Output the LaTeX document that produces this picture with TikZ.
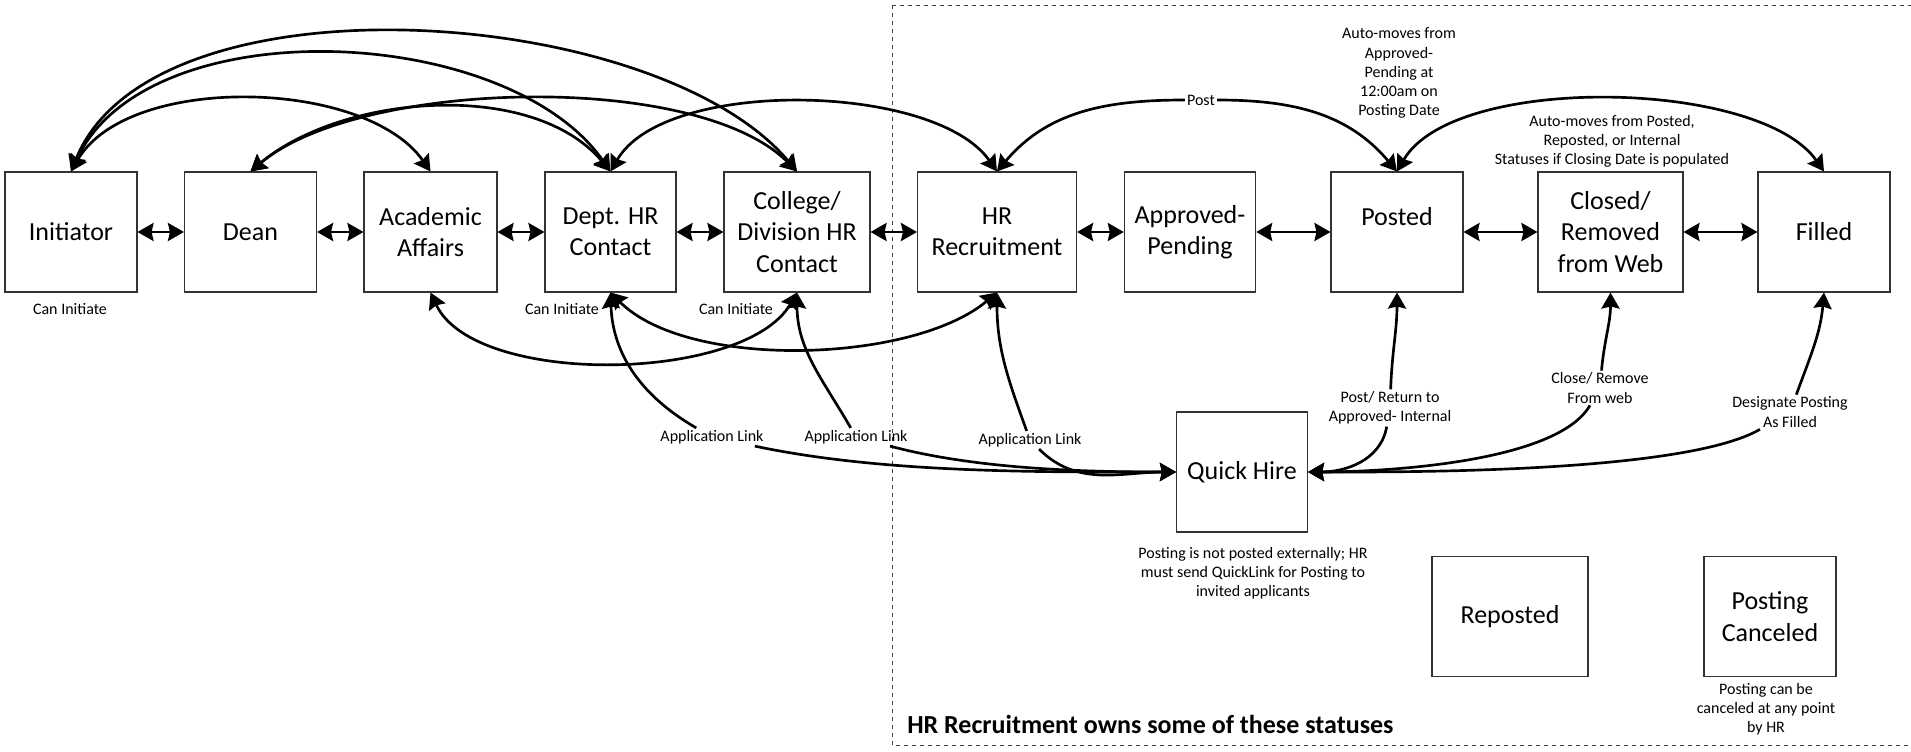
\documentclass[tikz,border=0pt]{standalone}
\usepackage{fontspec}
\setmainfont{Carlito}
\usetikzlibrary{arrows.meta}

\tikzset{
  status/.style={draw=black!80, line width=0.8pt, rectangle, minimum width=99pt, minimum height=90pt, align=center, inner sep=2pt, font=\fontsize{19.5}{23.5}\selectfont},
  note/.style={align=center, inner sep=1.5pt, font=\fontsize{12}{14.3}\selectfont},
  conn/.style={line width=2pt},
}

\begin{document}
\begin{tikzpicture}[x=0.75pt, y=0.75pt, >={Stealth[length=12pt,width=13.5pt,inset=1.5pt]}]
\useasboundingbox (0,0) rectangle (1911,-752);
% statuses owned by HR Recruitment
\draw[dashed, black!75, line width=0.6pt] (892,-5) rectangle (1918,-745);
\node[anchor=west, inner sep=0pt, font=\fontsize{19.5}{23.5}\selectfont\bfseries] (owns) at (907,-724) {HR Recruitment owns some of these statuses};

% status boxes
\node[status] (init) at (71,-232) {Initiator};
\node[status] (dean) at (250.5,-232) {Dean};
\node[status, minimum width=99.75pt] (acad) at (430.5,-232) {Academic\\Affairs};
\node[status, minimum width=98.25pt] (dept) at (610.5,-232) {Dept. HR\\Contact};
\node[status, minimum width=109.5pt] (coll) at (797,-232) {College/\\Division HR\\Contact};
\node[status, minimum width=119.25pt] (hrrec) at (997,-232) {HR\\Recruitment};
\node[status, minimum width=98.5pt] (appr) at (1190,-232) {Approved-\\Pending};
\node[status] (posted) at (1397,-232) {Posted\\\phantom{P}};
\node[status, minimum width=108.75pt] (closed) at (1610.5,-232) {Closed/\\Removed\\from Web};
\node[status] (filled) at (1824,-232) {Filled};
\node[status, minimum width=98.25pt] (quick) at (1242,-472) {Quick Hire};
\node[status, minimum width=117pt] (repost) at (1510,-616.5) {Reposted};
\node[status] (cancel) at (1770,-616.5) {Posting\\Canceled};

% notes
\node[note] (caninit1) at (70,-309) {Can Initiate};
\node[note] (caninit2) at (562,-309) {Can Initiate};
\node[note] (caninit3) at (736,-309) {Can Initiate};
\node[note] (automove1) at (1399,-73) {Auto-moves from\\Approved-\\Pending at\\12:00am on\\Posting Date};
\node[note] (automove2) at (1612,-141) {Auto-moves from Posted,\\Reposted, or Internal\\Statuses if Closing Date is populated};
\node[note] (quicknote) at (1253,-573) {Posting is not posted externally; HR\\must send QuickLink for Posting to\\invited applicants};
\node[note] (cancelnote) at (1766,-709) {Posting can be\\canceled at any point\\by HR};

% labels on the links
\node[note] (postlbl) at (1201,-100) {Post};
\node[note] (app1) at (712,-437) {Application Link};
\node[note] (app2) at (856,-437) {Application Link};
\node[note] (app3) at (1030,-440) {Application Link};
\node[note] (retlbl) at (1390,-408) {Post/ Return to\\Approved- Internal};
\node[note] (closelbl) at (1600,-388) {Close/ Remove\\From web};
\node[note] (filllbl) at (1790,-412) {Designate Posting\\As Filled};

% side by side
\draw[<->, conn] (init) -- (dean);
\draw[<->, conn] (dean) -- (acad);
\draw[<->, conn] (acad) -- (dept);
\draw[<->, conn] (dept) -- (coll);
\draw[<->, conn] (coll) -- (hrrec);
\draw[<->, conn] (hrrec) -- (appr);
\draw[<->, conn] (appr) -- (posted);
\draw[<->, conn] (posted) -- (closed);
\draw[<->, conn] (closed) -- (filled);

% arcs over the top
\draw[<->, conn] (init.north) to[out=60, in=125, looseness=0.81] (acad.north);
\draw[<->, conn] (init.north) to[out=65, in=125, looseness=0.86] (dept.north);
\draw[<->, conn] (init.north) to[out=68, in=130, looseness=0.77] (coll.north);
\draw[<->, conn] (dean.north) to[out=40, in=130, looseness=0.86] (dept.north);
\draw[<->, conn] (dean.north) to[out=40, in=135, looseness=0.67] (coll.north);
\draw[<->, conn] (dept.north) to[out=60, in=125, looseness=0.72] (hrrec.north);
\draw[->, conn] (postlbl) to[out=180, in=50] (hrrec.north);
\draw[->, conn] (postlbl) to[out=0, in=130] (posted.north);
\draw[<->, conn] (posted.north) to[out=60, in=125, looseness=0.68] (filled.north);

% arcs underneath
\draw[<->, conn] (acad.south) to[out=-65, in=-120, looseness=0.73] (coll.south);
\draw[<->, conn] (dept.south) to[out=-45, in=-140, looseness=0.73] (hrrec.south);

% into Quick Hire
\draw[->, conn] (app1) to[out=150, in=-88] (dept.south);
\draw[->, conn] (app1) to[out=-12, in=180, looseness=0.8] (quick.west);
\draw[->, conn] (app2) to[out=120, in=-90] (coll.south);
\draw[->, conn] (app2) to[out=-15, in=180, looseness=0.8] (quick.west);
\draw[->, conn] (app3) to[out=110, in=-90] (hrrec.south);
\draw[->, conn] (app3) to[out=-45, in=180] (quick.west);
\draw[->, conn] (retlbl) to[out=88, in=-90] (posted.south);
\draw[->, conn] (retlbl) to[out=-100, in=0] (quick.east);
\draw[->, conn] (closelbl) to[out=85, in=-90] (closed.south);
\draw[->, conn] (closelbl) to[out=-120, in=0, looseness=0.6] (quick.east);
\draw[->, conn] (filllbl) to[out=70, in=-95] (filled.south);
\draw[->, conn] (filllbl) to[out=-150, in=0, looseness=0.5] (quick.east);
\end{tikzpicture}
\end{document}
